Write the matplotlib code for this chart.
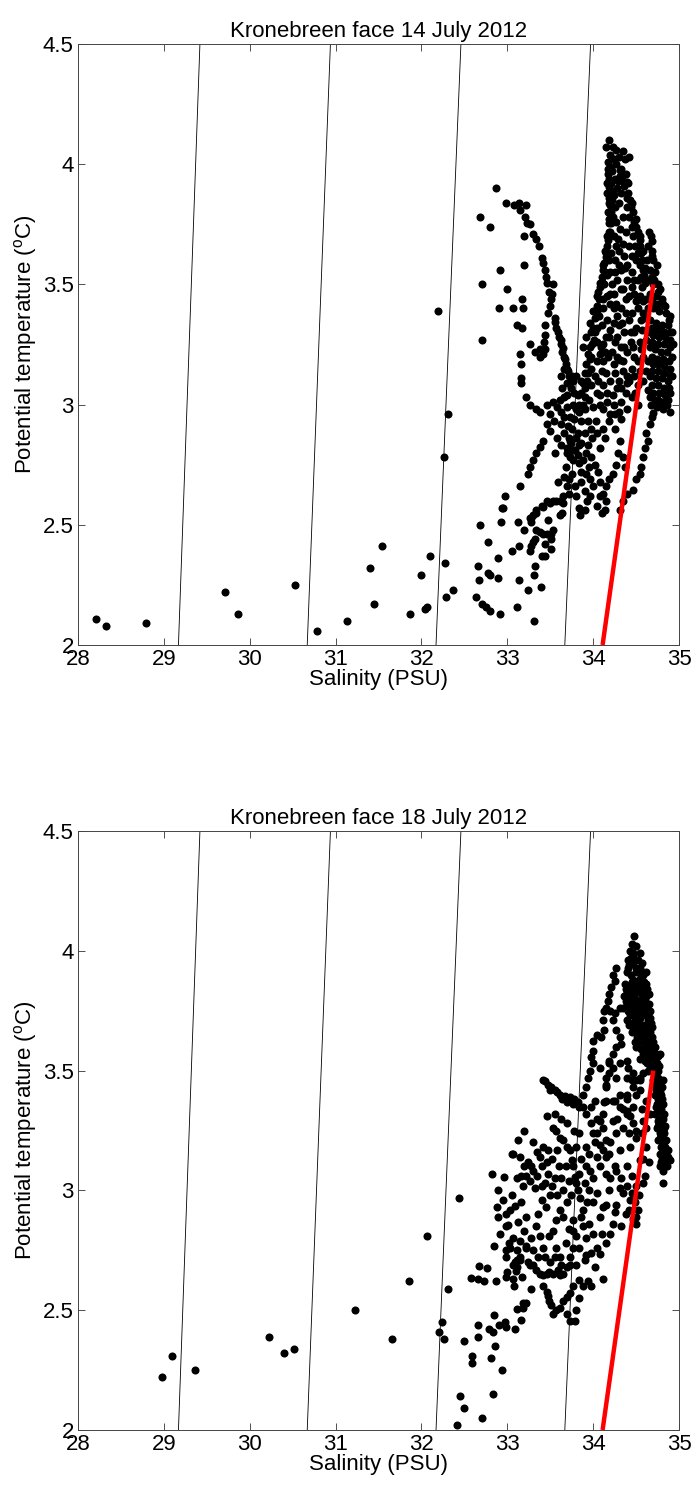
import matplotlib
matplotlib.use('Agg')
import matplotlib.pyplot as plt
from matplotlib.ticker import FormatStrFormatter
import numpy as np

plt.rcParams['font.family'] = ['Liberation Sans', 'DejaVu Sans']
plt.rcParams['mathtext.fontset'] = 'custom'
plt.rcParams['mathtext.rm'] = 'Liberation Sans'
plt.rcParams['mathtext.it'] = 'Liberation Sans'

# isopycnals: salinity where each crosses T = 2 and T = 4.5
iso_t = [2.0, 4.5]
iso_s_low = [29.17, 30.67, 32.17, 33.67]
iso_s_high = [29.42, 30.94, 32.46, 33.97]

# red reference line (S, T)
red_s = [34.11, 34.70]
red_t = [2.0, 3.5]

# ---------------- 14 July 2012 CTD points (salinity, potential temperature)
jul14_fresh = [
    (28.21, 2.11), (28.33, 2.08), (28.79, 2.09), (29.71, 2.22), (29.86, 2.13),
    (30.53, 2.25), (30.78, 2.06), (31.13, 2.10), (31.40, 2.32), (31.45, 2.17),
    (31.54, 2.41), (31.87, 2.13), (31.99, 2.29), (32.04, 2.15), (32.07, 2.16),
    (32.10, 2.37), (32.19, 3.39), (32.26, 2.78), (32.31, 2.96), (32.27, 2.34),
    (32.29, 2.20), (32.37, 2.23),
]
jul14_low = [
    (32.64, 2.20), (32.66, 2.33), (32.67, 2.27), (32.68, 2.50), (32.71, 2.17),
    (32.75, 2.16), (32.80, 2.14), (32.92, 2.13), (32.78, 2.30), (32.80, 2.29),
    (32.78, 2.43), (32.89, 2.36), (32.89, 2.28), (32.93, 2.51), (32.95, 2.57),
    (33.06, 2.39), (33.11, 2.16), (33.13, 2.51), (33.14, 2.27), (33.14, 2.41),
    (33.19, 2.48), (33.24, 2.23), (33.31, 2.10), (33.31, 2.29), (33.32, 2.33),
    (33.39, 2.24), (33.40, 2.37), (33.44, 2.37), (33.26, 2.39), (33.28, 2.41),
    (33.30, 2.43), (33.32, 2.44), (33.42, 2.46), (33.46, 2.46), (33.51, 2.46),
    (33.53, 2.48), (33.34, 2.48), (33.38, 2.47), (33.44, 2.42), (33.47, 2.52),
    (33.51, 2.44), (33.51, 2.40), (33.28, 2.51), (33.28, 2.53), (33.30, 2.54),
    (33.34, 2.56), (33.40, 2.58), (33.46, 2.60), (33.53, 2.60), (33.61, 2.60),
    (33.65, 2.59), (33.64, 2.55), (33.61, 2.54), (33.83, 2.57), (33.85, 2.54),
    (33.90, 2.56), (33.93, 2.60), (34.10, 2.55), (34.14, 2.56), (34.15, 2.60),
    (33.26, 2.74), (33.24, 2.71), (33.15, 2.66), (32.97, 2.62), (32.94, 2.57),
    (33.30, 2.77), (33.34, 2.80), (33.38, 2.825), (33.42, 2.85), (33.50, 2.89),
    (33.46, 2.92), (33.26, 2.53), (33.34, 2.55), (33.42, 2.575), (33.50, 2.59),
    (33.57, 2.60), (33.65, 2.62), (33.69, 2.66), (33.75, 2.71), (33.73, 2.78),
]
jul14_arc = [
    (32.68, 3.78), (32.80, 3.74), (32.87, 3.90), (32.70, 3.50), (32.70, 3.27),
    (32.91, 3.56), (33.00, 3.48), (32.90, 3.40), (33.07, 3.40), (33.17, 3.44),
    (33.18, 3.40), (33.20, 3.58), (33.20, 3.70), (33.11, 3.33), (33.17, 3.32),
    (33.26, 3.25), (33.32, 3.22), (33.38, 3.20), (33.44, 3.23), (33.44, 3.33),
    (33.44, 3.29), (33.43, 3.26), (33.15, 3.21), (33.16, 3.17), (33.16, 3.11),
    (33.16, 3.09), (33.22, 3.03), (33.26, 3.00), (33.34, 2.98), (33.38, 2.97),
    (33.46, 3.00), (33.53, 3.01), (33.61, 3.02), (33.69, 3.04), (33.38, 3.23),
    (33.42, 3.21),
    (32.99, 3.84), (33.08, 3.83), (33.14, 3.84), (33.15, 3.81), (33.22, 3.83),
    (33.21, 3.78), (33.23, 3.755), (33.27, 3.75), (33.30, 3.71), (33.34, 3.69),
    (33.37, 3.66), (33.40, 3.61), (33.42, 3.59), (33.44, 3.56), (33.45, 3.53),
    (33.46, 3.505), (33.53, 3.50), (33.49, 3.47), (33.52, 3.46), (33.51, 3.44),
    (33.50, 3.41), (33.48, 3.38), (33.55, 3.345), (33.56, 3.36), (33.57, 3.32),
    (33.59, 3.30), (33.60, 3.28), (33.62, 3.27), (33.64, 3.22), (33.65, 3.235),
    (33.66, 3.20), (33.67, 3.19), (33.68, 3.17), (33.70, 3.15), (33.71, 3.14),
    (33.72, 3.12), (33.75, 3.12), (33.73, 3.09), (33.77, 3.10), (33.74, 3.07),
    (33.78, 3.05), (33.63, 3.25), (33.66, 3.15), (33.69, 3.09), (33.62, 3.12),
    (33.64, 3.07), (33.66, 3.03), (33.82, 3.04), (33.86, 3.10), (33.80, 3.12),
]
jul14_core = [
    (33.69, 2.82), (33.72, 2.86), (33.75, 2.90), (33.78, 2.94), (33.80, 2.98),
    (33.73, 2.95), (33.70, 2.99), (33.77, 3.00), (33.82, 2.88), (33.84, 2.83),
    (33.79, 2.81), (33.74, 2.84), (33.71, 2.91), (33.66, 2.95), (33.62, 2.97),
    (33.58, 2.99), (33.86, 2.93), (33.83, 2.97), (33.88, 3.00),
    (33.73, 2.85), (33.77, 2.81), (33.84, 2.755), (33.92, 2.71), (33.96, 2.69),
    (34.00, 2.66), (34.08, 2.62), (34.12, 2.63), (34.15, 2.66), (34.19, 2.69),
    (34.23, 2.71), (34.31, 2.85), (34.35, 2.78), (34.37, 2.74), (34.29, 2.80),
    (34.27, 2.75), (34.31, 2.56), (34.35, 2.60), (34.40, 2.63), (34.04, 2.88),
    (34.11, 2.90), (34.18, 2.93), (34.25, 2.96), (34.33, 2.94),
    (34.66, 2.92), (34.64, 2.85), (34.62, 2.88), (34.60, 2.82), (34.58, 2.78),
    (34.56, 2.74), (34.54, 2.71), (34.50, 2.69), (34.47, 2.645), (34.68, 2.95),
    (33.62, 2.92), (33.66, 2.88), (33.70, 2.80), (33.76, 2.77), (33.82, 2.79),
    (33.88, 2.77), (33.80, 2.86), (33.86, 2.84), (33.90, 2.88), (33.94, 2.83),
    (33.98, 2.78), (34.02, 2.75), (34.06, 2.72), (33.94, 2.93), (33.98, 2.90),
    (34.03, 2.93), (33.68, 2.74), (33.72, 2.69), (33.79, 2.66), (33.86, 2.68),
    (33.90, 2.64), (33.96, 2.62), (34.04, 2.58), (33.80, 2.62), (33.72, 2.63),
    (33.58, 2.86), (33.56, 2.80), (33.62, 2.83), (33.54, 2.93), (33.50, 2.96),
    (33.59, 2.68), (33.66, 2.70), (34.26, 2.90), (34.14, 2.86), (34.08, 2.82),
    (33.99, 2.86), (33.92, 2.80), (33.86, 2.72), (33.95, 2.74), (34.08, 2.68),
]
jul14_spike = [
    (34.18, 4.10), (34.15, 4.07), (34.23, 4.07), (34.27, 4.06), (34.35, 4.055),
    (34.42, 4.03), (34.24, 4.02), (34.27, 4.00), (34.17, 4.01), (34.31, 3.976),
    (34.22, 3.97), (34.17, 3.96), (34.31, 3.95), (34.26, 3.94), (34.35, 3.93),
    (34.39, 3.925), (34.41, 3.92), (34.16, 3.92), (34.21, 3.92), (34.19, 3.905),
    (34.28, 3.90), (34.16, 3.88), (34.41, 3.88), (34.24, 3.87), (34.43, 3.85),
    (34.22, 3.85), (34.18, 3.84), (34.45, 3.84), (34.26, 3.82), (34.44, 3.82),
    (34.17, 3.80), (34.21, 3.80), (34.47, 3.80), (34.35, 3.78), (34.50, 3.77),
    (34.48, 3.76), (34.19, 3.755), (34.21, 3.755), (34.50, 3.74), (34.31, 3.73),
    (34.18, 3.72), (34.52, 3.72), (34.54, 3.70), (34.24, 3.70), (34.29, 3.69),
    (34.17, 3.685), (34.54, 3.685), (34.16, 3.66), (34.42, 3.66), (34.46, 3.70),
    (34.55, 3.66), (34.30, 3.64), (34.58, 3.64), (34.15, 3.63), (34.56, 3.63),
    (34.36, 3.62), (34.15, 3.615), (34.57, 3.60), (34.26, 3.60), (34.13, 3.59),
    (34.40, 3.58), (34.60, 3.57), (34.11, 3.56), (34.33, 3.56), (34.58, 3.56),
    (34.45, 3.55), (34.20, 3.55), (34.59, 3.54), (34.10, 3.53), (34.52, 3.52),
    (34.62, 3.52), (34.28, 3.52), (34.08, 3.505), (34.60, 3.505), (34.22, 3.50),
    (34.50, 3.60), (34.08, 3.49), (34.35, 3.48), (34.06, 3.47), (34.48, 3.46),
    (34.42, 3.45), (34.54, 3.45), (34.04, 3.45), (34.16, 3.45), (34.04, 3.41),
    (34.12, 3.40), (34.20, 3.42), (34.27, 3.42), (34.32, 3.40), (34.52, 3.40),
    (34.00, 3.39), (34.38, 3.38), (34.45, 3.38), (34.02, 3.36), (34.56, 3.35),
    (34.16, 3.35), (33.96, 3.34), (34.24, 3.34), (34.10, 3.33), (34.30, 3.33),
    (34.00, 3.32), (34.50, 3.32), (34.36, 3.30), (34.44, 3.30), (33.98, 3.30),
    (33.92, 3.28), (34.19, 3.28), (34.05, 3.26), (34.26, 3.26), (34.54, 3.26),
    (34.12, 3.25), (33.96, 3.24), (33.88, 3.24), (34.32, 3.24), (34.47, 3.24),
    (34.40, 3.22), (33.94, 3.21), (34.17, 3.20), (34.58, 3.20), (34.31, 3.185),
    (34.04, 3.18), (34.52, 3.18), (33.92, 3.17), (34.24, 3.17), (33.98, 3.15),
    (34.45, 3.15), (34.10, 3.14), (33.90, 3.13), (34.20, 3.10), (34.58, 3.10),
    (33.88, 3.09), (34.39, 3.09), (33.98, 3.08), (34.12, 3.08), (34.52, 3.08),
    (34.28, 3.07), (33.86, 3.05), (34.05, 3.05), (34.45, 3.03), (34.16, 3.01),
    (34.33, 3.01), (33.84, 3.00), (34.08, 3.00), (34.24, 3.00), (34.00, 2.99),
    (33.90, 2.98), (34.40, 3.12), (34.35, 3.18), (34.30, 3.10),
    (34.20, 4.04), (34.30, 4.03), (34.37, 4.02), (34.21, 3.99), (34.33, 3.98),
    (34.38, 3.96), (34.19, 3.94), (34.29, 3.93), (34.36, 3.91), (34.23, 3.89),
    (34.33, 3.88), (34.39, 3.86), (34.20, 3.83), (34.30, 3.84), (34.40, 3.82),
    (34.23, 3.78), (34.42, 3.78), (34.27, 3.76), (34.45, 3.74), (34.20, 3.72),
    (34.38, 3.72), (34.27, 3.66), (34.35, 3.67), (34.49, 3.66), (34.21, 3.63),
    (34.45, 3.62), (34.52, 3.63), (34.18, 3.60), (34.30, 3.58), (34.37, 3.57),
    (34.54, 3.58), (34.16, 3.54), (34.25, 3.55), (34.40, 3.52), (34.48, 3.52),
    (34.56, 3.53), (34.13, 3.50), (34.32, 3.48), (34.45, 3.49), (34.57, 3.49),
    (34.11, 3.44), (34.24, 3.46), (34.38, 3.44), (34.50, 3.43), (34.58, 3.43),
    (34.07, 3.37), (34.28, 3.37), (34.42, 3.35), (34.58, 3.38), (34.04, 3.32),
    (34.20, 3.31), (34.34, 3.34), (34.48, 3.30), (34.57, 3.31), (34.01, 3.27),
    (34.14, 3.22), (34.36, 3.24), (34.44, 3.26), (34.56, 3.23), (33.97, 3.20),
    (34.08, 3.21), (34.28, 3.20), (34.48, 3.20), (33.94, 3.13), (34.02, 3.12),
    (34.15, 3.13), (34.35, 3.14), (34.55, 3.14), (33.90, 3.07), (34.08, 3.04),
    (34.23, 3.04), (34.38, 3.05), (34.49, 3.05), (33.95, 3.02), (34.12, 2.98),
    (34.30, 2.97), (34.20, 2.96),
    (34.17, 3.98), (34.19, 3.86), (34.18, 3.77), (34.16, 3.70), (34.14, 3.64),
    (34.12, 3.58), (34.10, 3.51), (34.07, 3.44), (34.05, 3.39), (34.02, 3.30),
    (33.99, 3.25), (33.96, 3.19), (33.93, 3.10), (33.90, 3.03), (34.14, 3.55),
    (34.20, 3.46), (34.24, 3.40), (34.28, 3.28), (34.15, 3.28), (34.09, 3.24),
    (34.22, 3.22), (34.26, 3.13), (34.11, 3.18), (34.06, 3.10), (34.16, 3.05),
    (34.33, 3.07), (34.42, 3.10), (34.48, 3.12), (34.52, 3.00), (34.40, 2.98),
]
jul14_column = [
    (34.65, 3.72), (34.67, 3.70), (34.64, 3.66), (34.68, 3.64), (34.63, 3.60),
    (34.70, 3.60), (34.66, 3.56), (34.72, 3.55), (34.64, 3.52), (34.70, 3.50),
    (34.76, 3.50), (34.66, 3.46), (34.73, 3.45), (34.80, 3.44), (34.81, 3.42),
    (34.64, 3.40), (34.70, 3.40), (34.77, 3.39), (34.85, 3.38), (34.89, 3.37),
    (34.66, 3.35), (34.73, 3.34), (34.80, 3.33), (34.87, 3.33), (34.92, 3.30),
    (34.64, 3.30), (34.70, 3.29), (34.77, 3.28), (34.84, 3.28), (34.90, 3.27),
    (34.93, 3.25), (34.66, 3.24), (34.72, 3.23), (34.79, 3.22), (34.86, 3.22),
    (34.92, 3.20), (34.64, 3.18), (34.70, 3.17), (34.76, 3.17), (34.83, 3.16),
    (34.90, 3.15), (34.66, 3.12), (34.73, 3.11), (34.80, 3.11), (34.87, 3.10),
    (34.92, 3.12), (34.64, 3.06), (34.70, 3.05), (34.77, 3.05), (34.84, 3.04),
    (34.90, 3.05), (34.67, 3.00), (34.74, 2.99), (34.81, 2.98), (34.89, 2.97),
    (34.70, 2.965), (34.76, 3.02), (34.86, 3.00), (34.68, 3.68), (34.69, 3.53),
    (34.75, 3.47), (34.62, 3.44), (34.62, 3.36), (34.62, 3.27), (34.62, 3.14),
    (34.68, 3.62), (34.74, 3.58), (34.71, 3.52), (34.78, 3.48), (34.68, 3.43),
    (34.75, 3.42), (34.84, 3.41), (34.88, 3.35), (34.68, 3.32), (34.75, 3.31),
    (34.82, 3.30), (34.90, 3.30), (34.68, 3.26), (34.75, 3.25), (34.82, 3.25),
    (34.89, 3.24), (34.68, 3.20), (34.74, 3.19), (34.81, 3.19), (34.88, 3.18),
    (34.68, 3.14), (34.75, 3.14), (34.82, 3.13), (34.89, 3.12), (34.68, 3.08),
    (34.75, 3.08), (34.82, 3.07), (34.88, 3.07), (34.72, 3.02), (34.80, 3.01),
    (34.87, 3.02), (34.66, 3.03),
]

# ---------------- 18 July 2012 CTD points
jul18_fresh = [
    (28.98, 2.22), (29.09, 2.31), (29.36, 2.25), (30.22, 2.39), (30.40, 2.32),
    (30.51, 2.34), (31.23, 2.50), (31.66, 2.38), (31.86, 2.62), (32.06, 2.81),
    (32.44, 2.97), (32.31, 2.59), (32.24, 2.45), (32.21, 2.41), (32.26, 2.38),
    (32.50, 2.37), (32.59, 2.31), (32.59, 2.28), (32.45, 2.14), (32.50, 2.09),
    (32.41, 2.02), (32.71, 2.05), (32.83, 2.15), (32.94, 2.25), (32.81, 2.30),
    (32.86, 2.35), (32.79, 2.42), (32.83, 2.41), (32.66, 2.44), (32.66, 2.39),
    (32.85, 2.48), (32.90, 2.44), (32.97, 2.45), (32.99, 2.43), (33.09, 2.42),
    (33.16, 2.46), (33.11, 2.505), (33.18, 2.53), (33.22, 2.53), (33.18, 2.51),
]
jul18_mid = [
    (32.58, 2.635), (32.66, 2.63), (32.67, 2.685), (32.76, 2.675), (32.73, 2.62),
    (32.87, 2.62), (32.98, 2.64), (33.00, 2.66), (33.07, 2.63), (33.08, 2.60),
    (33.10, 2.665), (33.11, 2.68), (33.17, 2.64), (33.28, 2.59), (33.09, 2.70),
    (32.85, 2.77), (32.98, 2.75), (33.02, 2.78), (33.07, 2.80), (33.15, 2.79),
    (33.22, 2.77), (33.11, 2.71), (33.15, 2.72), (33.24, 2.70), (32.99, 2.85),
    (33.01, 2.855), (32.99, 2.90), (33.03, 2.92), (33.09, 2.935), (32.88, 2.93),
    (32.89, 2.89), (32.89, 3.00), (32.96, 3.055), (32.82, 3.07), (33.07, 3.15),
    (33.12, 3.21), (33.20, 3.25), (33.22, 2.89), (33.05, 3.15), (33.15, 3.14),
    (33.24, 3.12), (33.30, 3.08), (33.38, 3.14), (33.42, 3.18), (33.47, 3.17),
    (33.46, 3.12), (33.47, 3.07), (33.18, 3.02), (33.22, 3.06), (33.27, 3.04),
    (33.32, 3.01), (33.35, 3.06), (33.20, 3.10), (33.28, 3.10), (33.16, 3.06),
]
jul18_lower = [
    (33.26, 2.69), (33.30, 2.69), (33.34, 2.667), (33.38, 2.65), (33.42, 2.646),
    (33.46, 2.65), (33.49, 2.66), (33.53, 2.65), (33.59, 2.667), (33.63, 2.69),
    (33.61, 2.646), (33.65, 2.65), (33.42, 2.60), (33.46, 2.576), (33.47, 2.56),
    (33.49, 2.54), (33.51, 2.52), (33.53, 2.486), (33.57, 2.50), (33.61, 2.51),
    (33.65, 2.54), (33.69, 2.555), (33.73, 2.57), (33.77, 2.60), (33.83, 2.625),
    (33.88, 2.60), (33.94, 2.62), (33.98, 2.60), (34.02, 2.68), (34.12, 2.63),
    (33.84, 2.55), (33.80, 2.50), (33.79, 2.454), (33.73, 2.454), (33.69, 2.486),
    (33.90, 2.71), (33.80, 2.69), (33.73, 2.69), (33.69, 2.68),
]
jul18_body = [
    (34.43, 2.96), (34.33, 2.85), (34.23, 2.86), (34.08, 2.89), (34.11, 2.93),
    (34.15, 2.94), (34.27, 2.94), (34.35, 2.99), (34.31, 3.01), (34.39, 3.02),
    (34.58, 3.03), (34.81, 3.03), (34.08, 2.735), (34.04, 2.76), (33.92, 2.80),
    (33.88, 2.85), (33.86, 2.89), (33.88, 2.92), (33.77, 2.875), (33.77, 2.83),
    (33.80, 2.81), (33.77, 2.76), (33.73, 2.72), (33.61, 2.92), (33.65, 2.89),
    (33.57, 2.875), (33.53, 2.83), (33.49, 2.81), (33.57, 2.76), (33.61, 2.72),
    (33.34, 2.85), (33.38, 2.81), (33.42, 2.76), (33.30, 2.75), (33.22, 2.76),
    (33.11, 2.75), (33.03, 2.76), (32.99, 2.72), (33.07, 2.69), (33.15, 2.71),
    (33.46, 3.31), (33.53, 3.26), (33.57, 3.25), (33.61, 3.22), (33.65, 3.21),
    (33.69, 3.18), (33.73, 3.17), (33.75, 3.125), (33.77, 3.10), (33.79, 3.056),
    (33.80, 3.03), (33.82, 3.00), (33.88, 3.35), (33.92, 3.32), (33.98, 3.28),
    (34.04, 3.24), (34.08, 3.19), (34.11, 3.17), (34.15, 3.14), (34.15, 3.375),
    (34.23, 3.375), (34.31, 3.35), (34.39, 3.33), (34.43, 3.31), (34.47, 3.28),
    (34.50, 3.25), (34.50, 2.86), (34.50, 2.89), (34.52, 2.92), (34.49, 2.95),
    (34.53, 2.98), (34.50, 3.02), (34.47, 2.88), (33.55, 3.05), (33.60, 3.10),
    (33.50, 2.98), (33.45, 2.93), (33.40, 2.96), (33.65, 3.00), (33.70, 2.95),
    (33.95, 3.00), (34.00, 3.05), (33.92, 3.10), (34.00, 2.95), (34.20, 3.05),
    (34.25, 3.10), (33.98, 2.74), (34.15, 2.78), (34.20, 2.82), (34.38, 2.90),
    (33.40, 3.02), (33.52, 3.13), (33.58, 3.17), (33.36, 2.90), (33.95, 2.86),
    (33.30, 3.20), (33.35, 3.16), (33.40, 3.10), (33.44, 3.03), (33.52, 3.02),
    (33.58, 2.98), (33.63, 3.05), (33.68, 3.10), (33.72, 3.04), (33.74, 2.98),
    (33.85, 2.97), (33.90, 3.03), (33.86, 3.13), (33.80, 3.18), (33.84, 3.24),
    (33.78, 3.25), (33.70, 3.28), (33.62, 3.30), (33.55, 3.32), (33.95, 3.15),
    (34.02, 3.20), (34.20, 3.20), (34.28, 3.30), (34.35, 3.34), (34.12, 3.26),
    (34.05, 3.30), (33.97, 3.35), (34.42, 3.24), (34.57, 3.24), (34.57, 3.34),
    (34.60, 3.06), (34.65, 3.12), (34.58, 3.13), (34.45, 3.06), (34.32, 3.05),
    (34.18, 3.00), (34.05, 2.99), (33.93, 2.95), (33.44, 2.72), (33.50, 2.70),
    (33.36, 2.72), (33.28, 2.80), (33.20, 2.83), (33.12, 2.87), (33.16, 2.95),
    (33.05, 2.98), (33.11, 3.05), (32.95, 2.96), (32.92, 2.82), (33.55, 2.72),
    (33.68, 2.78), (33.72, 2.84), (33.83, 2.76), (33.92, 2.73), (34.00, 2.82),
    (34.10, 2.82), (34.25, 2.91), (34.42, 2.92), (34.45, 2.99),
]
jul18_upper = [
    (34.48, 4.06), (34.45, 4.03), (34.43, 4.00), (34.46, 3.99), (34.54, 3.99),
    (34.41, 3.96), (34.47, 3.95), (34.52, 3.96), (34.57, 3.95), (34.39, 3.91),
    (34.44, 3.90), (34.50, 3.91), (34.56, 3.89), (34.61, 3.91), (34.37, 3.86),
    (34.43, 3.85), (34.49, 3.86), (34.55, 3.84), (34.62, 3.86), (34.36, 3.81),
    (34.42, 3.80), (34.48, 3.81), (34.54, 3.79), (34.60, 3.80), (34.65, 3.82),
    (34.35, 3.76), (34.41, 3.75), (34.47, 3.75), (34.53, 3.74), (34.59, 3.76),
    (34.66, 3.75), (34.40, 3.71), (34.46, 3.70), (34.52, 3.70), (34.58, 3.69),
    (34.64, 3.71), (34.68, 3.68), (34.45, 3.66), (34.51, 3.64), (34.57, 3.65),
    (34.63, 3.63), (34.69, 3.64), (34.50, 3.60), (34.56, 3.59), (34.62, 3.60),
    (34.68, 3.58), (34.72, 3.60), (34.55, 3.55), (34.60, 3.54), (34.66, 3.55),
    (34.72, 3.54), (34.75, 3.56), (34.70, 3.50), (34.76, 3.50), (34.64, 3.50),
    (34.70, 3.46), (34.78, 3.46), (34.81, 3.46), (34.72, 3.40), (34.79, 3.40),
    (34.72, 3.32), (34.79, 3.34), (34.83, 3.32), (34.74, 3.26), (34.80, 3.27),
    (34.76, 3.21), (34.82, 3.20), (34.85, 3.21), (34.78, 3.15), (34.85, 3.14),
    (34.89, 3.125), (34.78, 3.10), (34.81, 3.08), (34.66, 3.52), (34.74, 3.53),
    (34.78, 3.57), (34.70, 3.58), (34.76, 3.38), (34.77, 3.30), (34.80, 3.13),
    (34.83, 3.17), (34.74, 3.44), (34.76, 3.34),
    (34.50, 4.02), (34.44, 3.97), (34.50, 3.93), (34.55, 3.93), (34.41, 3.93),
    (34.47, 3.88), (34.53, 3.88), (34.59, 3.87), (34.40, 3.83), (34.46, 3.83),
    (34.52, 3.83), (34.58, 3.82), (34.63, 3.84), (34.39, 3.78), (34.45, 3.78),
    (34.51, 3.77), (34.57, 3.78), (34.63, 3.78), (34.43, 3.73), (34.49, 3.72),
    (34.55, 3.72), (34.61, 3.73), (34.66, 3.72), (34.48, 3.68), (34.54, 3.67),
    (34.60, 3.67), (34.66, 3.66), (34.53, 3.62), (34.59, 3.62), (34.65, 3.61),
    (34.70, 3.62), (34.58, 3.57), (34.64, 3.57), (34.69, 3.56), (34.73, 3.57),
    (34.63, 3.53), (34.68, 3.52), (34.73, 3.49), (34.77, 3.52), (34.72, 3.44),
    (34.77, 3.43), (34.80, 3.43), (34.74, 3.36), (34.78, 3.37), (34.81, 3.36),
    (34.75, 3.29), (34.81, 3.30), (34.84, 3.27), (34.78, 3.24), (34.83, 3.24),
    (34.79, 3.18), (34.84, 3.18), (34.87, 3.17), (34.82, 3.11), (34.86, 3.10),
    (34.47, 3.98), (34.42, 3.94), (34.53, 3.91), (34.58, 3.90), (34.45, 3.87),
    (34.51, 3.85), (34.57, 3.86), (34.38, 3.84), (34.44, 3.81), (34.50, 3.79),
    (34.56, 3.80), (34.62, 3.81), (34.38, 3.79), (34.43, 3.76), (34.49, 3.74),
    (34.56, 3.75), (34.61, 3.76), (34.65, 3.78), (34.42, 3.69), (34.47, 3.68),
    (34.53, 3.66), (34.57, 3.68), (34.63, 3.69), (34.67, 3.70), (34.52, 3.64),
    (34.58, 3.64), (34.64, 3.64), (34.68, 3.60), (34.60, 3.59), (34.66, 3.58),
    (34.71, 3.56), (34.62, 3.55), (34.70, 3.53), (34.75, 3.47), (34.73, 3.42),
    (34.78, 3.41), (34.75, 3.39), (34.80, 3.38), (34.73, 3.35), (34.77, 3.33),
    (34.81, 3.32), (34.76, 3.27), (34.82, 3.26), (34.78, 3.22), (34.80, 3.20),
    (34.83, 3.15), (34.79, 3.12), (34.84, 3.12), (34.87, 3.14),
    (34.27, 3.93), (34.23, 3.90), (34.25, 3.875), (34.21, 3.85), (34.19, 3.82),
    (34.17, 3.79), (34.15, 3.76), (34.13, 3.75), (34.31, 3.76), (34.20, 3.75),
    (34.25, 3.74), (34.39, 3.76), (34.47, 3.75), (34.11, 3.71), (34.13, 3.67),
    (34.09, 3.64), (34.04, 3.65), (34.00, 3.625), (34.00, 3.58), (33.98, 3.555),
    (34.00, 3.53), (33.96, 3.50), (33.94, 3.47), (33.92, 3.43), (33.88, 3.40),
    (33.42, 3.46), (33.44, 3.458), (33.47, 3.44), (33.51, 3.43), (33.55, 3.417),
    (33.61, 3.40), (33.67, 3.396), (33.73, 3.39), (33.78, 3.38), (33.50, 3.42),
    (33.58, 3.41), (33.64, 3.38), (33.70, 3.37), (33.76, 3.36), (33.82, 3.37),
    (33.84, 3.35),
    (34.23, 3.71), (34.27, 3.67), (34.31, 3.64), (34.33, 3.61), (34.27, 3.60),
    (34.23, 3.57), (34.19, 3.54), (34.23, 3.51), (34.19, 3.49), (34.15, 3.47),
    (34.27, 3.47), (34.31, 3.53), (34.39, 3.54), (34.41, 3.51), (34.39, 3.47),
    (34.45, 3.46), (34.50, 3.46), (34.54, 3.47), (34.58, 3.49), (34.47, 3.43),
    (34.50, 3.40), (34.39, 3.40), (34.31, 3.40), (34.15, 3.44),
    (34.13, 3.37), (34.25, 3.375), (34.02, 3.375), (34.47, 3.35), (34.39, 3.38),
    (34.54, 3.46), (34.47, 3.49), (34.35, 3.26), (34.15, 3.21), (34.27, 3.24),
    (34.08, 3.29), (34.00, 3.24), (33.92, 3.18), (34.04, 3.14), (34.19, 3.15),
    (34.31, 3.17), (34.43, 3.18), (34.50, 3.22), (34.62, 3.18), (34.54, 3.125),
    (34.39, 3.10), (34.27, 3.08), (34.15, 3.07), (34.08, 3.10), (33.96, 3.08),
    (33.84, 3.07), (34.62, 3.26), (34.66, 3.32), (34.62, 3.375), (34.58, 3.29),
    (34.39, 3.32), (34.23, 3.29), (34.11, 3.32), (34.15, 3.43), (34.19, 3.53),
    (34.08, 3.51), (34.54, 3.42), (34.49, 3.62), (34.55, 3.64),
]


def to_xy(*groups):
    pts = np.array([p for g in groups for p in g])
    return pts[:, 0], pts[:, 1]


panels = [
    ('Kronebreen face 14 July 2012',
     to_xy(jul14_fresh, jul14_low, jul14_arc, jul14_core, jul14_spike, jul14_column)),
    ('Kronebreen face 18 July 2012',
     to_xy(jul18_fresh, jul18_mid, jul18_lower, jul18_body, jul18_upper)),
]

fig = plt.figure(figsize=(6.94, 14.86), dpi=100)
W, H = 694.0, 1486.0
boxes = [(78, 44, 679, 645), (78, 831, 679, 1430)]  # left, top, right, bottom in px

for (title, (sal, theta)), (x0, y0, x1, y1) in zip(panels, boxes):
    ax = fig.add_axes([x0 / W, 1 - y1 / H, (x1 - x0) / W, (y1 - y0) / H])
    for s_lo, s_hi in zip(iso_s_low, iso_s_high):
        ax.plot([s_lo, s_hi], iso_t, color='k', lw=0.6, zorder=1)
    ax.plot(sal, theta, 'o', color='k', ms=5.8, mew=0, zorder=2)
    ax.plot(red_s, red_t, color='#ff0000', lw=3.2, solid_capstyle='butt', zorder=3)

    ax.set_xlim(28, 35)
    ax.set_ylim(2, 4.5)
    ax.set_xticks(np.arange(28, 36, 1))
    ax.set_yticks([2, 2.5, 3, 3.5, 4, 4.5])
    ax.yaxis.set_major_formatter(FormatStrFormatter('%g'))
    ax.tick_params(direction='in', length=5, width=0.6, top=True, right=True,
                   labelsize=16, colors='#333333', labelcolor='k', pad=3)
    for sp in ax.spines.values():
        sp.set_linewidth(0.7)
        sp.set_color('#444444')
    ax.set_xlabel('Salinity (PSU)', fontsize=16, labelpad=-1)
    ax.set_ylabel(r'Potential temperature ($^{\mathrm{o}}$C)', fontsize=16, labelpad=3)
    ax.set_title(title, fontsize=16, pad=5)

fig.savefig('out.png', dpi=100)
